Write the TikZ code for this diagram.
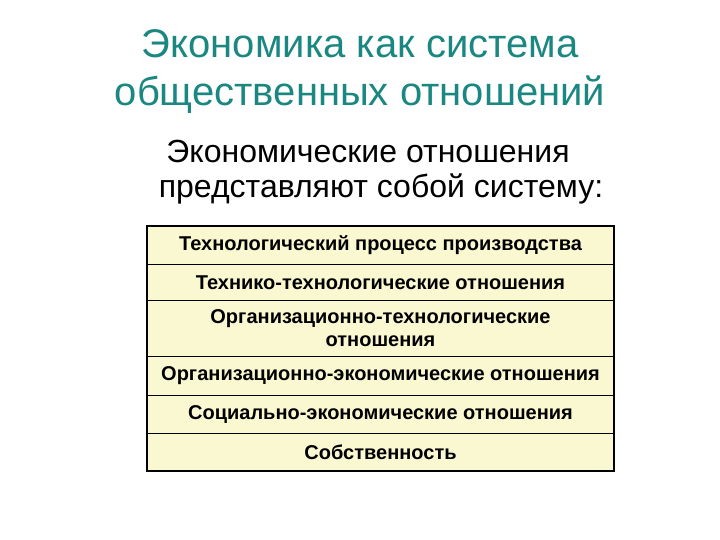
\documentclass[tikz,border=0pt]{standalone}
\usepackage{fontspec}
\setmainfont{Liberation Sans}
\definecolor{titlecol}{RGB}{26,135,128}
\definecolor{rowfill}{RGB}{250,248,208}
\begin{document}
\begin{tikzpicture}[x=1pt,y=-1pt,
  title/.style={text=titlecol,font=\fontsize{40}{48}\selectfont,inner sep=0pt,anchor=base},
  sub/.style={text=black,font=\fontsize{32}{38}\selectfont,inner sep=0pt,anchor=base},
  row/.style={draw=black,line width=1pt,fill=rowfill,minimum width=466pt,anchor=north west,inner sep=0pt,font=\fontsize{20}{23}\selectfont\bfseries,align=center}]
\useasboundingbox (0,0) rectangle (720,540);
\node[title] (t1) at (360,58) {Экономика как система};
\node[title] (t2) at (360,106) {общественных отношений};
\node[sub] (s1) at (368,163) {Экономические отношения};
\node[sub] (s2) at (381,197) {представляют собой систему:};
\node[row,minimum height=38pt] (r1) at (147,226) {Технологический процесс производства};
\node[row,minimum height=36pt] (r2) at (147,264) {Технико-технологические отношения};
\node[row,minimum height=56pt] (r3) at (147,300) {Организационно-технологические\\отношения};
\node[row,minimum height=39pt] (r4) at (147,356) {Организационно-экономические отношения};
\node[row,minimum height=38pt] (r5) at (147,395) {Социально-экономические отношения};
\node[row,minimum height=37pt] (r6) at (147,433) {Собственность};
\draw[line width=2.5pt] (r1.north west) rectangle (r6.south east);
\end{tikzpicture}
\end{document}
